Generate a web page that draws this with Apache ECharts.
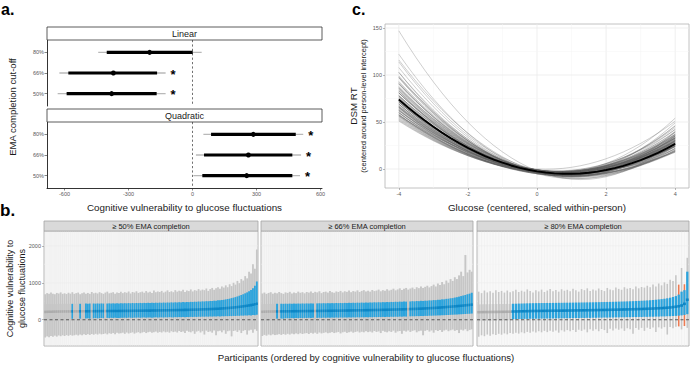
<!DOCTYPE html>
<html><head><meta charset="utf-8">
<script src="https://cdn.jsdelivr.net/npm/echarts@6/dist/echarts.min.js"></script>
<style>html,body{margin:0;padding:0;background:#fff}#c{width:691px;height:365px}</style>
</head><body><div id="c"></div>
<script>
// ================= Panel a: EMA cut-off estimates =================
const cutoffLabels = ['50%', '66%', '80%'];
const aTicks = [-600, -300, 0, 300, 600];
const linEst  = [-379, -371, -201];
const linLo95 = [-632, -624, -442];
const linHi95 = [-126, -126, 43];
const linLo50 = [-590, -582, -402];
const linHi50 = [-168, -166, 1];
const quadEst  = [254, 262, 285];
const quadLo95 = [4, 16, 51];
const quadHi95 = [504, 509, 519];
const quadLo50 = [46, 54, 87];
const quadHi50 = [468, 468, 484];

// ================= Panel c: quadratic curves (per-person coefficients) =================
const cTicksX = [-4, -2, 0, 2, 4];
const cTicksY = [0, 50, 100, 150];
const personB0 = [-2,-4,-3,-1,-3,-5,-2,-4,-3,-2,
  -1,-3,-4,-2,-3,-1,-4,-2,-3,-5,
  -2,-3,-1,-4,-2,-3,-5,-2,-1,-3,
  -4,-2,-3,-1,-4,-2,-3,-5,-2,-3,
  -1,-4,-2,-3,-2,-4,-1,-3,-2,-5,
  -3,-1,-4,-2,-3,-2,-4,-1,-3,-2,
  0,-3,-2,-4,-1,-3,-2,-5,-3,-1,
  -2,-4,-3,-2,-1,-3,-4,-2,-3,-2];
const personB1 = [-14.5,-10.3,-11.4,-8.1,-9.1,-9.6,-6.1,-8.4,-9.5,-7.3,
  -6.4,-8.4,-7.6,-6.9,-8.3,-6.1,-7.4,-6.6,-8.3,-6.0,
  -5.0,-7.1,-6.4,-7.4,-5.4,-6.4,-5.6,-7.6,-4.6,-6.3,
  -5.6,-6.5,-5.0,-5.6,-6.8,-4.6,-5.9,-5.0,-5.5,-6.1,
  -4.0,-5.8,-4.9,-6.6,-4.4,-5.0,-5.8,-4.0,-5.0,-4.4,
  -5.3,-4.5,-5.8,-3.8,-4.8,-4.5,-3.8,-5.3,-4.1,-4.6,
  -1.8,-4.8,-3.6,-4.1,-5.4,-3.1,-4.0,-4.8,-3.5,-4.1,
  -3.0,-4.3,-3.4,-3.8,-4.9,-3.0,-4.0,-3.1,-3.5,-2.9];
const personB2 = [5.69,5.31,4.59,5.16,4.66,4.34,5.03,4.34,3.94,4.38,
  4.53,3.91,4.03,4.16,3.75,4.22,3.84,3.97,3.50,4.00,
  4.25,3.66,3.78,3.47,3.97,3.66,3.78,3.28,3.97,3.50,
  3.66,3.38,3.69,3.53,3.19,3.72,3.34,3.56,3.38,3.22,
  3.69,3.25,3.41,2.97,3.47,3.31,3.06,3.50,3.19,3.34,
  3.06,3.25,2.88,3.38,3.06,3.13,3.25,2.88,3.09,2.97,
  3.63,2.88,3.09,2.97,2.59,3.16,2.88,2.69,2.94,2.78,
  3.00,2.69,2.84,2.75,2.41,2.88,2.56,2.72,2.56,2.59];
const meanB0 = -2.5, meanB1 = -5.9, meanB2 = 3.3;

// ================= Panel b: participant estimates per facet =================
const facetTitles = ['\u2265 50% EMA completion', '\u2265 66% EMA completion', '\u2265 80% EMA completion'];
const bTicksY = [0, 1000, 2000];

const est1 = [212,215,217,218,219,220,221,222,222,223,
224,224,225,225,226,226,227,227,228,228,
229,229,230,230,231,231,232,232,233,233,
234,234,235,235,236,236,237,237,238,238,
239,239,240,241,241,242,243,243,244,245,
245,246,247,247,248,249,250,250,251,252,
253,254,255,256,257,258,259,260,261,262,
263,264,266,267,268,270,271,273,274,276,
278,280,282,284,286,288,290,293,296,299,
302,305,309,313,317,321,326,331,336,342,
348,355,362,370,378,387,396,406,418,432];
const hi95_1 = [690,720,700,735,705,690,725,710,740,700,
715,695,730,705,745,700,720,735,690,715,
740,705,725,700,750,715,730,710,745,720,
700,735,760,715,730,745,705,740,725,755,
720,745,730,765,710,750,735,770,725,745,
760,730,775,740,755,720,790,745,765,750,
780,735,760,795,750,770,745,800,760,785,
770,810,750,790,775,820,765,800,785,830,
790,815,800,845,780,830,860,810,850,880,
840,900,870,930,880,960,910,1000,950,1050,
990,1100,1060,1180,1120,1300,1250,1500,1380,1900];
const lo95_1 = [-480,-450,-470,-440,-460,-430,-455,-425,-445,-420,
-440,-415,-435,-410,-430,-420,-405,-425,-400,-420,
-395,-415,-390,-410,-385,-405,-380,-400,-375,-395,
-385,-370,-395,-365,-380,-360,-390,-355,-375,-365,
-350,-380,-345,-370,-355,-340,-375,-350,-335,-365,
-345,-330,-360,-340,-325,-355,-335,-320,-350,-330,
-345,-315,-340,-325,-350,-310,-335,-320,-345,-305,
-330,-315,-360,-300,-325,-340,-310,-380,-320,-300,
-345,-310,-400,-295,-330,-315,-350,-290,-420,-310,
-300,-340,-285,-380,-310,-295,-450,-305,-290,-330,
-285,-360,-300,-280,-400,-290,-270,-350,-260,-300];
const lo50_1 = [-30,-20,-25,-15,-35,-20,-10,-25,-15,-20,
-30,-10,-20,-15,25,-10,-5,-15,30,-5,
-10,35,40,30,-5,40,45,38,42,48,
44,-8,50,46,52,48,55,50,47,53,
52,56,50,58,54,51,57,55,60,53,
58,62,55,60,64,57,61,66,59,63,
65,60,68,63,70,66,62,71,67,72,
69,74,70,76,72,78,74,80,76,82,
79,84,81,86,83,88,85,90,88,92,
90,95,93,98,96,100,98,104,102,108,
106,112,110,116,114,120,118,126,124,135];
const hi50_1 = [415,422,420,426,422,428,424,430,425,431,
428,432,427,433,430,434,429,435,431,436,
432,437,433,438,434,439,435,440,436,441,
437,442,438,443,439,444,440,446,441,447,
443,448,444,450,445,452,447,453,449,455,
450,456,452,458,453,460,455,461,457,463,
458,465,460,467,463,470,465,472,468,475,
470,477,474,480,477,484,481,488,485,493,
490,497,495,502,500,508,507,515,515,525,
525,535,540,550,560,570,585,598,612,630,
650,670,690,715,740,770,805,850,920,1035];

const est2 = [215,218,220,221,222,223,224,225,225,226,
227,227,228,229,229,230,231,231,232,233,
233,234,235,235,236,237,238,238,239,240,
241,241,242,243,244,245,245,246,247,248,
249,250,251,252,253,254,255,256,257,258,
259,260,261,263,264,265,266,268,269,270,
272,273,275,276,278,280,281,283,285,287,
289,291,293,295,298,300,303,306,309,312,
315,318,322,326,330,334,338,343,348,353,
358,363,368,373,378,383,389,395,400,408];
const hi95_2 = [710,735,700,725,745,705,730,715,750,720,
700,740,725,755,710,735,720,760,730,745,
715,750,735,765,725,755,740,770,720,750,
760,735,775,745,730,765,750,780,740,770,
755,790,745,775,760,795,750,780,800,765,
785,760,805,775,790,815,770,800,785,825,
790,810,840,795,820,850,805,835,860,815,
845,870,830,880,855,900,860,890,920,875,
910,950,900,980,940,1020,960,1060,1000,1100,
1050,1150,1100,1200,1300,1180,1750,1280,1350,1300];
const lo95_2 = [-440,-410,-430,-400,-420,-395,-415,-405,-390,-410,
-385,-405,-380,-400,-375,-395,-370,-390,-365,-385,
-370,-360,-385,-355,-375,-350,-380,-345,-370,-355,
-340,-365,-350,-335,-360,-345,-330,-370,-340,-325,
-355,-335,-320,-350,-330,-315,-345,-325,-340,-310,
-335,-320,-345,-305,-330,-315,-360,-300,-325,-340,
-310,-330,-295,-350,-315,-305,-380,-300,-320,-290,
-330,-300,-285,-340,-310,-295,-420,-300,-280,-320,
-290,-350,-280,-305,-275,-330,-290,-270,-310,-285,
-265,-300,-280,-360,-270,-290,-255,-310,-275,-260];
const lo50_2 = [-25,-15,-30,-10,-20,-15,-8,30,-5,35,
28,40,42,38,45,40,47,43,48,44,
50,46,52,47,53,-6,50,55,51,56,
52,57,54,59,55,60,56,61,58,62,
59,64,60,65,62,67,63,68,65,70,
66,71,68,73,70,75,72,77,74,79,
76,81,78,83,80,86,82,88,85,-8,
92,95,94,98,97,101,100,105,104,109,
108,112,113,117,118,122,123,127,129,133,
135,139,141,146,148,152,155,160,162,168];
const hi50_2 = [418,425,423,428,425,430,427,432,428,433,
430,434,431,436,432,437,434,438,435,440,
436,441,438,442,439,445,442,446,443,448,
444,449,446,450,447,453,449,454,450,456,
452,458,455,460,456,462,458,464,460,466,
462,468,465,472,468,474,470,477,473,480,
476,482,479,486,483,490,486,494,490,520,
495,502,498,506,503,512,508,516,515,524,
522,532,530,540,540,552,552,565,568,580,
585,600,610,625,640,655,670,690,705,730];

const est3 = [205,207,208,209,210,211,212,213,214,215,
216,217,222,224,226,228,230,232,234,236,
237,238,239,240,241,242,243,244,245,246,
247,248,249,250,252,253,254,255,257,258,
259,261,262,264,265,267,269,270,272,274,
276,278,280,282,284,286,288,291,294,297,
300,303,307,311,315,320,326,333,342,352,
365,385,430,540];
const hi95_3 = [760,720,790,740,770,730,800,750,780,735,
790,745,770,810,750,785,760,820,775,740,
800,765,815,750,790,830,770,805,760,825,
785,810,770,840,795,760,830,800,850,780,
815,790,845,805,775,860,820,800,870,835,
810,880,840,860,825,900,850,885,870,920,
880,950,900,980,930,1010,970,1080,1050,1200,
950,1400,960,1675];
const lo95_3 = [-460,-420,-445,-400,-430,-390,-415,-380,-405,-370,
-395,-360,-380,-350,-375,-340,-365,-330,-355,-320,
-345,-310,-340,-300,-335,-295,-325,-290,-350,-285,
-320,-280,-310,-275,-330,-270,-300,-265,-340,-260,
-295,-255,-310,-250,-280,-360,-245,-290,-240,-270,
-235,-300,-230,-260,-380,-225,-270,-220,-300,-215,
-250,-210,-330,-205,-240,-200,-400,-195,-230,-190,
-180,-260,-170,-220];
const lo50_3 = [-40,-25,-35,-20,-30,-15,-28,-10,-22,-12,
-18,-5,15,18,22,20,25,23,28,26,
30,28,33,31,35,33,38,36,40,38,
42,40,45,43,47,45,50,48,52,50,
55,53,57,56,60,58,62,61,65,64,
68,66,70,69,73,72,76,75,79,78,
82,81,86,85,90,90,95,96,102,104,
110,118,130,150];
const hi50_3 = [415,418,420,420,422,422,424,424,426,426,
428,428,432,434,437,439,441,444,446,448,
449,450,452,452,454,454,456,456,458,458,
460,461,462,463,465,466,467,468,470,471,
472,474,476,478,479,481,483,485,487,490,
492,494,497,500,503,506,510,514,518,523,
528,534,541,549,558,568,580,595,615,640,
680,760,800,1300];
const flagged3 = [70, 72];

// ================= build =================
const FONT = '"Liberation Sans", Arial, Helvetica, sans-serif';
const facets = [
  {est: est1, lo95: lo95_1, hi95: hi95_1, lo50: lo50_1, hi50: hi50_1, flagged: []},
  {est: est2, lo95: lo95_2, hi95: hi95_2, lo50: lo50_2, hi50: hi50_2, flagged: []},
  {est: est3, lo95: lo95_3, hi95: hi95_3, lo50: lo50_3, hi50: hi50_3, flagged: flagged3}
];

function rowsOf(est, lo95, hi95, lo50, hi50) {
  return cutoffLabels.map((_, i) => [i, est[i], lo95[i], hi95[i], lo50[i], hi50[i]]);
}

function intervalItem(params, api) {
  const row = api.value(0);
  const pe = api.coord([api.value(1), row]);
  const a = api.coord([api.value(2), row]);
  const b = api.coord([api.value(3), row]);
  const c = api.coord([api.value(4), row]);
  const d = api.coord([api.value(5), row]);
  const children = [
    {type: 'line', shape: {x1: a[0], y1: a[1], x2: b[0], y2: b[1]}, style: {stroke: '#b9b9b9', lineWidth: 1.3}},
    {type: 'line', shape: {x1: c[0], y1: c[1], x2: d[0], y2: d[1]}, style: {stroke: '#000', lineWidth: 3.2}},
    {type: 'circle', shape: {cx: pe[0], cy: pe[1], r: 2.5}, style: {fill: '#000'}}
  ];
  if (api.value(2) > 0 || api.value(3) < 0) {
    children.push({type: 'text', x: b[0] + 5, y: pe[1] + 1, style: {text: '*', fill: '#000', fontSize: 13, fontWeight: 'bold', fontFamily: FONT, align: 'left', verticalAlign: 'middle'}});
  }
  return {type: 'group', children};
}

function ruleSeries(idx, items, styleFn, z) {
  return {
    type: 'custom', xAxisIndex: idx, yAxisIndex: idx, silent: true, z, clip: false,
    data: items,
    renderItem(params, api) {
      const cs = params.coordSys;
      const o = api.value(0), v = api.value(1), major = api.value(2);
      let shape;
      if (o === 0) {
        const x = api.coord([v, 0])[0];
        shape = {x1: x, y1: cs.y, x2: x, y2: cs.y + cs.height};
      } else {
        const y = api.coord([0, v])[1];
        shape = {x1: cs.x, y1: y, x2: cs.x + cs.width, y2: y};
      }
      return {type: 'line', shape, style: styleFn(major)};
    }
  };
}
const gridStyle = (major) => major ? {stroke: '#ebebeb', lineWidth: 0.8} : {stroke: '#f4f4f4', lineWidth: 0.5};

function participantItem(params, api) {
  const x = api.value(0);
  const bw = api.size([1, 0])[0];
  const pe = api.coord([x, api.value(1)]);
  const y95lo = api.coord([x, api.value(2)])[1];
  const y95hi = api.coord([x, api.value(3)])[1];
  const y50lo = api.coord([x, api.value(4)])[1];
  const y50hi = api.coord([x, api.value(5)])[1];
  const sig = api.value(4) > 0;
  const flag = api.value(6) === 1;
  const ow = bw < 2.5 ? bw * 0.92 : bw * 0.55;
  const iw = bw < 2.5 ? bw * 0.95 : bw * 0.8;
  return {type: 'group', children: [
    {type: 'rect', shape: {x: pe[0] - ow / 2, y: y95hi, width: ow, height: y95lo - y95hi}, style: {fill: flag ? '#ec7a52' : '#c6c6c6'}},
    {type: 'rect', shape: {x: pe[0] - iw / 2, y: y50hi, width: iw, height: y50lo - y50hi}, style: {fill: sig ? '#2ca4dd' : '#c6c6c6'}},
    {type: 'rect', shape: {x: pe[0] - bw / 2, y: pe[1] - 1.3, width: bw, height: 2.6}, style: {fill: sig ? '#0c86c6' : '#acacac'}}
  ]};
}

// ---- grids ----
const grids = [
  {left: 47, top: 40, width: 275, height: 66},
  {left: 47, top: 122, width: 275, height: 66},
  {left: 385, top: 24, width: 304, height: 164, show: true, borderColor: '#b3b3b3', borderWidth: 0.8, backgroundColor: '#fff'},
  {left: 44, top: 231, width: 214, height: 115, show: true, borderColor: '#a3a3a3', borderWidth: 0.8, backgroundColor: '#f5f5f5'},
  {left: 261, top: 231, width: 212, height: 115, show: true, borderColor: '#a3a3a3', borderWidth: 0.8, backgroundColor: '#f5f5f5'},
  {left: 477, top: 231, width: 212, height: 115, show: true, borderColor: '#a3a3a3', borderWidth: 0.8, backgroundColor: '#f8f8f8'}
].map(g => Object.assign({outerBoundsMode: 'none', containLabel: false}, g));

const tickLabel = {fontSize: 5.5, color: '#595959', fontFamily: FONT, formatter: v => String(v)};
const hidden = {axisLine: {show: false}, axisTick: {show: false}, axisLabel: {show: false}, splitLine: {show: false}};

const xAxes = [
  Object.assign({gridIndex: 0, type: 'value', min: -682, max: 607}, hidden),
  {gridIndex: 1, type: 'value', min: -682, max: 607,
    axisLine: {show: true, onZero: false, lineStyle: {color: '#000', width: 0.8}},
    axisTick: {show: true, customValues: aTicks, length: 2.5, lineStyle: {color: '#333', width: 0.6}},
    axisLabel: Object.assign({customValues: aTicks, margin: 3}, tickLabel), splitLine: {show: false}},
  {gridIndex: 2, type: 'value', min: -4.4, max: 4.4,
    axisLine: {show: false, onZero: false},
    axisTick: {show: true, customValues: cTicksX, length: 2, lineStyle: {color: '#888', width: 0.6}},
    axisLabel: Object.assign({customValues: cTicksX, margin: 3}, tickLabel), splitLine: {show: false}},
  Object.assign({gridIndex: 3, type: 'value', min: 0.4, max: est1.length + 0.6}, hidden),
  Object.assign({gridIndex: 4, type: 'value', min: 0.4, max: est2.length + 0.6}, hidden),
  Object.assign({gridIndex: 5, type: 'value', min: 0.4, max: est3.length + 0.6}, hidden)
];
const aY = (gi) => ({gridIndex: gi, type: 'value', min: -0.6, max: 2.6,
  axisLine: {show: true, onZero: false, lineStyle: {color: '#000', width: 0.8}},
  axisTick: {show: true, customValues: [0, 1, 2], length: 2.5, lineStyle: {color: '#333', width: 0.6}},
  axisLabel: Object.assign({}, tickLabel, {customValues: [0, 1, 2], margin: 3, formatter: v => cutoffLabels[Math.round(v)]}),
  splitLine: {show: false}});
const yAxes = [
  aY(0), aY(1),
  {gridIndex: 2, type: 'value', min: -20.2, max: 154.3,
    axisLine: {show: false, onZero: false},
    axisTick: {show: true, customValues: cTicksY, length: 2, lineStyle: {color: '#888', width: 0.6}},
    axisLabel: Object.assign({customValues: cTicksY, margin: 3}, tickLabel), splitLine: {show: false}},
  {gridIndex: 3, type: 'value', min: -710, max: 2400,
    axisLine: {show: false, onZero: false},
    axisTick: {show: true, customValues: bTicksY, length: 2, lineStyle: {color: '#888', width: 0.6}},
    axisLabel: Object.assign({customValues: bTicksY, margin: 3}, tickLabel), splitLine: {show: false}},
  Object.assign({gridIndex: 4, type: 'value', min: -710, max: 2400}, hidden),
  Object.assign({gridIndex: 5, type: 'value', min: -710, max: 2400}, hidden)
];

const series = [];
// panel a
series.push({type: 'custom', xAxisIndex: 0, yAxisIndex: 0, renderItem: intervalItem, data: rowsOf(linEst, linLo95, linHi95, linLo50, linHi50), z: 5, clip: false});
series.push({type: 'custom', xAxisIndex: 1, yAxisIndex: 1, renderItem: intervalItem, data: rowsOf(quadEst, quadLo95, quadHi95, quadLo50, quadHi50), z: 5, clip: false});
const dashA = () => ({stroke: '#333', lineWidth: 0.7, lineDash: [2.2, 2.2]});
series.push(ruleSeries(0, [[0, 0, 1]], dashA, 3));
series.push(ruleSeries(1, [[0, 0, 1]], dashA, 3));

// panel c gridlines
const cGrid = [];
cTicksX.forEach(v => cGrid.push([0, v, 1]));
[-3, -1, 1, 3].forEach(v => cGrid.push([0, v, 0]));
cTicksY.forEach(v => cGrid.push([1, v, 1]));
[25, 75, 125].forEach(v => cGrid.push([1, v, 0]));
series.push(ruleSeries(2, cGrid, gridStyle, 1));

// panel c curves
const glucoseGrid = [];
for (let g = -4; g <= 4.0001; g += 0.25) glucoseGrid.push(+g.toFixed(2));
function curve(b0, b1, b2) { return glucoseGrid.map(g => [g, b0 + b1 * g + b2 * g * g]); }
const nC = Math.min(personB0.length, personB1.length, personB2.length);
for (let i = 0; i < nC; i++) {
  series.push({type: 'line', xAxisIndex: 2, yAxisIndex: 2, data: curve(personB0[i], personB1[i], personB2[i]),
    symbol: 'none', silent: true, z: 2, lineStyle: {color: 'rgba(95,95,95,0.38)', width: 0.8}});
}
series.push({type: 'line', xAxisIndex: 2, yAxisIndex: 2, data: curve(meanB0, meanB1, meanB2),
  symbol: 'none', silent: true, z: 4, lineStyle: {color: '#000', width: 1.9}});

// panel b
facets.forEach((f, k) => {
  const n = Math.min(f.est.length, f.lo95.length, f.hi95.length, f.lo50.length, f.hi50.length);
  const gi = 3 + k;
  const g = [];
  for (let i = 0; i < n; i++) g.push([0, i + 1, 1]);
  [0, 1000, 2000].forEach(v => g.push([1, v, 1]));
  [500, 1500].forEach(v => g.push([1, v, 0]));
  series.push(ruleSeries(gi, g, (m) => m ? {stroke: '#ececec', lineWidth: 0.5} : {stroke: '#f0f0f0', lineWidth: 0.5}, 1));
  const data = [];
  for (let i = 0; i < n; i++) data.push([i + 1, f.est[i], f.lo95[i], f.hi95[i], f.lo50[i], f.hi50[i], f.flagged.indexOf(i) >= 0 ? 1 : 0]);
  series.push({type: 'custom', xAxisIndex: gi, yAxisIndex: gi, renderItem: participantItem, data, z: 3, clip: true, silent: true});
  series.push(ruleSeries(gi, [[1, 0, 1]], () => ({stroke: '#5a5a5a', lineWidth: 1.2, lineDash: [3, 2.5]}), 6));
});

// ---- text / strips ----
function T(x, y, text, size, o) {
  o = o || {};
  return {type: 'text', x, y, rotation: o.rot || 0, silent: true, z: 20,
    style: {text, fill: o.color || '#1a1a1a', fontSize: size, fontWeight: o.bold ? 'bold' : 'normal', fontFamily: FONT,
      align: o.align || 'center', verticalAlign: o.va || 'middle'}};
}
function strip(x, y, w, h, fill, stroke) {
  return {type: 'rect', shape: {x, y, width: w, height: h}, style: {fill, stroke, lineWidth: 0.8}, silent: true, z: 19};
}
const R = Math.PI / 2;
const graphic = [
  T(1, 1, 'a.', 16, {bold: true, align: 'left', va: 'top', color: '#000'}),
  T(352, 1, 'c.', 16, {bold: true, align: 'left', va: 'top', color: '#000'}),
  T(0, 210, 'b.', 17, {bold: true, align: 'left', color: '#000'}),
  strip(47, 27, 275, 13, '#fff', '#333'), T(184.5, 33.5, 'Linear', 9),
  strip(47, 109, 275, 13, '#fff', '#333'), T(184.5, 115.5, 'Quadratic', 9),
  T(12.5, 107, 'EMA completion cut-off', 9.5, {rot: R}),
  T(184.5, 207, 'Cognitive vulnerability to glucose fluctuations', 9.8),
  T(353, 106, 'DSM RT', 9.8, {rot: R}),
  T(363.5, 106, '(centered around person-level intercept)', 7.5, {rot: R}),
  T(537, 207, 'Glucose (centered, scaled within-person)', 9.8),
  T(9.5, 288.5, 'Cognitive vulnerability to', 9, {rot: R}),
  T(21.5, 288.5, 'glucose fluctuations', 9, {rot: R}),
  T(366, 357.5, 'Participants (ordered by cognitive vulnerability to glucose fluctuations)', 9.6)
];
[[44, 214], [261, 212], [477, 212]].forEach((p, k) => {
  graphic.push(strip(p[0], 221, p[1], 10, '#d9d9d9', '#a3a3a3'));
  graphic.push(T(p[0] + p[1] / 2, 226.2, facetTitles[k], 7.5));
});

const chart = echarts.init(document.getElementById('c'), null, {renderer: 'svg', width: 691, height: 365});
chart.setOption({
  animation: false,
  backgroundColor: '#fff',
  textStyle: {fontFamily: FONT},
  grid: grids, xAxis: xAxes, yAxis: yAxes, series, graphic
});
</script>
</body></html>
